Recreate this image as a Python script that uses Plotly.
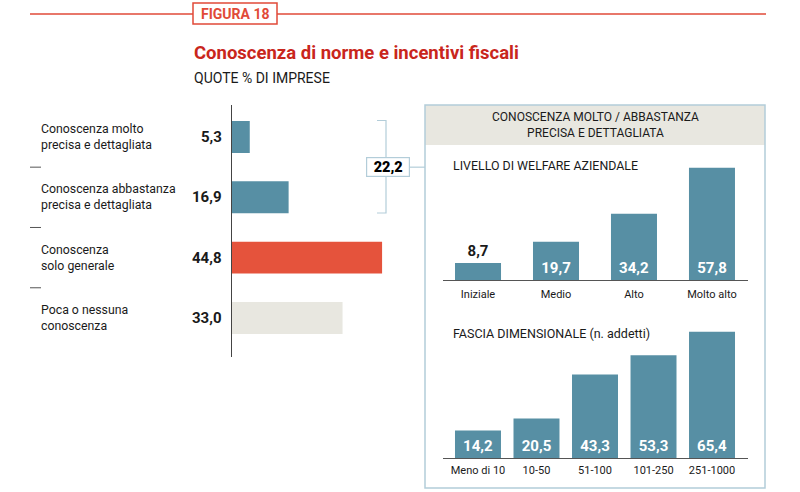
import plotly.graph_objects as go

# ---------------- data ----------------
knowledge_labels = ["Conoscenza molto<br>precisa e dettagliata",
                    "Conoscenza abbastanza<br>precisa e dettagliata",
                    "Conoscenza<br>solo generale",
                    "Poca o nessuna<br>conoscenza"]
knowledge_values = [5.3, 16.9, 44.8, 33.0]
bracket_total = 22.2

welfare_cats = ["Iniziale", "Medio", "Alto", "Molto alto"]
welfare_values = [8.7, 19.7, 34.2, 57.8]

size_cats = ["Meno di 10", "10-50", "51-100", "101-250", "251-1000"]
size_values = [14.2, 20.5, 43.3, 53.3, 65.4]

# ---------------- style ----------------
W, H = 800, 492
FONT = "Roboto"
TEAL = "#578fa4"
RED = "#e5533c"
LIGHT = "#e8e7e0"
TITLE_RED = "#c9261c"
LINE_RED = "#e14a38"
PANEL = "#b3cdd9"
DARK = "#1a1a1a"


def px(x):
    return x / W


def py(y):
    return 1 - y / H


def fmt(v):
    return f"{v:.1f}".replace(".", ",")


fig = go.Figure()

# left horizontal bars
fig.add_trace(go.Bar(
    x=knowledge_values, y=list(range(len(knowledge_values))), orientation="h",
    marker=dict(color=[TEAL, TEAL, RED, LIGHT], line=dict(width=0)),
    width=0.53, xaxis="x", yaxis="y", hoverinfo="skip", showlegend=False))

# welfare bars
fig.add_trace(go.Bar(
    x=welfare_cats, y=welfare_values,
    text=[fmt(v) for v in welfare_values],
    textposition=["outside", "inside", "inside", "inside"],
    insidetextanchor="start",
    insidetextfont=dict(family=FONT, size=15, color="white", weight="bold"),
    outsidetextfont=dict(family=FONT, size=15, color=DARK, weight="bold"),
    marker=dict(color=TEAL, line=dict(width=0)), width=0.59,
    cliponaxis=False, xaxis="x2", yaxis="y2", hoverinfo="skip", showlegend=False))

# size bars
fig.add_trace(go.Bar(
    x=size_cats, y=size_values,
    text=[fmt(v) for v in size_values],
    textposition="inside", insidetextanchor="start",
    insidetextfont=dict(family=FONT, size=15, color="white", weight="bold"),
    marker=dict(color=TEAL, line=dict(width=0)), width=0.786,
    cliponaxis=False, xaxis="x3", yaxis="y3", hoverinfo="skip", showlegend=False))

hidden = dict(showgrid=False, zeroline=False, showticklabels=False, ticks="")

fig.update_layout(
    width=W, height=H, margin=dict(l=0, r=0, t=0, b=0),
    paper_bgcolor="white", plot_bgcolor="rgba(0,0,0,0)",
    font=dict(family=FONT, color=DARK), uniformtext=dict(mode="show", minsize=8),
    xaxis=dict(domain=[px(232), px(232 + 3.35 * 50)], range=[0, 50], **hidden),
    yaxis=dict(domain=[py(357), py(105)], range=[3.648, -0.531], showline=True,
               linecolor="#444", linewidth=1, anchor="x", **hidden),
    xaxis2=dict(domain=[px(443), px(748)], type="category", range=[-0.449, 3.462],
                showline=True, linecolor="#555", linewidth=1, showgrid=False,
                zeroline=False, ticks="", ticklabelstandoff=4,
                tickfont=dict(family=FONT, size=11, color=DARK), anchor="y2"),
    yaxis2=dict(domain=[py(280), py(160)], range=[0, 120 / 1.94], anchor="x2", **hidden),
    xaxis3=dict(domain=[px(443), px(748)], type="category", range=[-0.598, 4.615],
                showline=True, linecolor="#555", linewidth=1, showgrid=False,
                zeroline=False, ticks="", ticklabelstandoff=2,
                tickfont=dict(family=FONT, size=11, color=DARK), anchor="y3"),
    yaxis3=dict(domain=[py(458), py(325)], range=[0, 133 / 1.93], anchor="x3", **hidden),
)

shapes = []
# header red rule and figure box
shapes.append(dict(type="line", xref="paper", yref="paper", x0=px(30), x1=px(766),
                   y0=py(14), y1=py(14), line=dict(color=LINE_RED, width=1.5)))
shapes.append(dict(type="rect", xref="paper", yref="paper", x0=px(193), x1=px(277),
                   y0=py(24), y1=py(3), fillcolor="white",
                   line=dict(color=LINE_RED, width=1.5)))
# separators
for yv in [0.5, 1.5, 2.5]:
    shapes.append(dict(type="line", xref="paper", yref="y", x0=px(30), x1=px(41),
                       y0=yv, y1=yv, line=dict(color="#555", width=1)))
# bracket
shapes.append(dict(type="path", xref="paper", yref="paper",
                   path=f"M {px(377)} {py(120.5)} L {px(386)} {py(120.5)} L {px(386)} {py(213)} L {px(377)} {py(213)}",
                   line=dict(color=PANEL, width=1.2)))
shapes.append(dict(type="line", xref="paper", yref="y", x0=px(408), x1=px(425),
                   y0=0.5, y1=0.5, line=dict(color=PANEL, width=1.2)))
# panel
shapes.append(dict(type="rect", xref="paper", yref="paper", x0=px(425), x1=px(765),
                   y0=py(145), y1=py(105), fillcolor=LIGHT, line=dict(width=0), layer="below"))
shapes.append(dict(type="rect", xref="paper", yref="paper", x0=px(425), x1=px(765),
                   y0=py(488), y1=py(105), fillcolor="rgba(0,0,0,0)",
                   line=dict(color=PANEL, width=1.5), layer="below"))
fig.update_layout(shapes=shapes)

ann = []
ann.append(dict(text="<b>FIGURA 18</b>", xref="paper", yref="paper", x=px(235), y=py(14),
                xanchor="center", yanchor="middle", showarrow=False,
                font=dict(family=FONT, size=14, color=LINE_RED)))
ann.append(dict(text="<b>Conoscenza di norme e incentivi fiscali</b>", xref="paper", yref="paper",
                x=px(192), y=py(53), xanchor="left", yanchor="middle", showarrow=False,
                font=dict(family=FONT, size=18.5, color=TITLE_RED)))
ann.append(dict(text="QUOTE % DI IMPRESE", xref="paper", yref="paper",
                x=px(192), y=py(78), xanchor="left", yanchor="middle", showarrow=False,
                font=dict(family=FONT, size=14, color=DARK)))
for i, (lab, v) in enumerate(zip(knowledge_labels, knowledge_values)):
    ann.append(dict(text=lab, xref="paper", yref="y", x=px(39), y=i, xanchor="left",
                    yanchor="middle", align="left", showarrow=False,
                    font=dict(family=FONT, size=12.3, color=DARK)))
    ann.append(dict(text=f"<b>{fmt(v)}</b>", xref="paper", yref="y", x=px(224), y=i,
                    xanchor="right", yanchor="middle", showarrow=False,
                    font=dict(family=FONT, size=15, color=DARK)))
ann.append(dict(text=fmt(bracket_total), xref="paper", yref="y", x=px(388), y=0.5,
                xanchor="center", yanchor="middle", showarrow=False, width=38, height=14,
                bgcolor="white", bordercolor=PANEL, borderwidth=1.2, borderpad=2,
                font=dict(family=FONT, size=14.5, color="#000", weight=900)))
ann.append(dict(text="CONOSCENZA MOLTO / ABBASTANZA<br>PRECISA E DETTAGLIATA", xref="paper",
                yref="paper", x=px(595), y=py(125), xanchor="center", yanchor="middle",
                showarrow=False, align="center", font=dict(family=FONT, size=12, color=DARK)))
ann.append(dict(text="LIVELLO DI WELFARE AZIENDALE", xref="paper", yref="paper",
                x=px(451), y=py(165), xanchor="left", yanchor="middle", showarrow=False,
                font=dict(family=FONT, size=12.4, color=DARK)))
ann.append(dict(text="FASCIA DIMENSIONALE (n. addetti)", xref="paper", yref="paper",
                x=px(451), y=py(333), xanchor="left", yanchor="middle", showarrow=False,
                font=dict(family=FONT, size=12.5, color=DARK)))
fig.update_layout(annotations=ann)

fig.write_html("out.html", config={"displayModeBar": False},
               post_script="document.body.style.margin='0px';")
